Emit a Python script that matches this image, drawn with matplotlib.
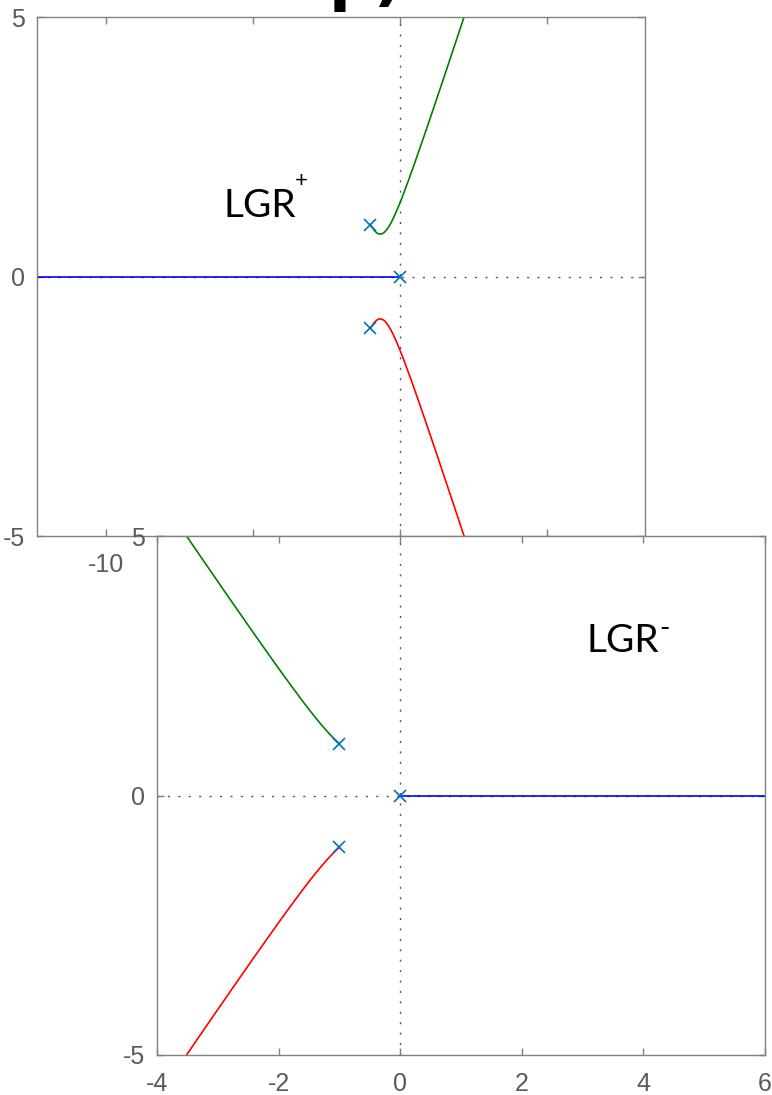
import matplotlib
matplotlib.use('Agg')
import matplotlib.pyplot as plt

plt.rcParams['axes.unicode_minus'] = False

W, H = 772, 1095

# open-loop poles
pole_re = [0.0, -1.0, -1.0]
pole_im = [0.0, 1.0, -1.0]

# LGR+ complex branch (upper half; lower is its conjugate)
pos_sigma = [-1.00, -0.95, -0.90, -0.85, -0.80, -0.75, -0.70, -0.65, -0.60, -0.55,
             -0.50, -0.40, -0.30, -0.20, -0.10, 0.00, 0.10, 0.20, 0.30, 0.40,
             0.50, 0.60, 0.80, 1.00, 1.20, 1.40, 1.60, 1.80, 2.00, 2.20, 2.40]
pos_omega = [1.000, 0.953, 0.911, 0.876, 0.849, 0.829, 0.819, 0.817, 0.825, 0.841,
             0.866, 0.938, 1.034, 1.149, 1.277, 1.414, 1.559, 1.709, 1.863, 2.020,
             2.179, 2.341, 2.668, 3.000, 3.335, 3.672, 4.010, 4.350, 4.690, 5.032, 5.374]
pos_real_x = [0.0, -15.0]
pos_real_y = [0.0, 0.0]

# LGR- complex branch (upper half)
neg_sigma = [-1.0, -1.1, -1.2, -1.3, -1.4, -1.5, -1.6, -1.8, -2.0, -2.2, -2.4,
             -2.6, -2.8, -3.0, -3.2, -3.4, -3.6]
neg_omega = [1.000, 1.109, 1.233, 1.368, 1.510, 1.658, 1.811, 2.126, 2.449, 2.779,
             3.111, 3.447, 3.784, 4.123, 4.463, 4.804, 5.146]
neg_real_x = [0.0, 15.0]
neg_real_y = [0.0, 0.0]

top_xticks = [-10, -5, 0, 5]
bot_xticks = [-4, -2, 0, 2, 4, 6]
yticks = [-5, 0, 5]

AX_COL = '#808080'
LBL_COL = '#5a5a5a'
BLUE = '#0000ff'
GREEN = '#008000'
RED = '#ff0000'
POLE = '#0072BD'

fig = plt.figure(figsize=(W / 100, H / 100), dpi=100)

ax1 = fig.add_axes([37 / W, 1 - 536 / H, 608 / W, 519 / H])
ax2 = fig.add_axes([157 / W, 1 - 1055 / H, 608 / W, 519 / H])


def style(ax, xticks):
    ax.set_xticks(xticks)
    ax.set_yticks(yticks)
    for s in ax.spines.values():
        s.set_color(AX_COL)
        s.set_linewidth(1.0)
    ax.tick_params(direction='in', length=5, width=1, color=AX_COL,
                   labelcolor=LBL_COL, labelsize=18, top=True, right=True)
    ax.tick_params(axis='x', pad=12.5)
    ax.tick_params(axis='y', pad=8.5)
    for lab in ax.get_xticklabels() + ax.get_yticklabels():
        lab.set_family('Liberation Sans')
    ax.axhline(0, color='#555555', lw=1, ls=(0, (1.5, 6)), zorder=1)
    ax.axvline(0, color='#555555', lw=1, ls=(0, (1.5, 6)), zorder=1)


style(ax1, top_xticks)
ax1.set_xlim(-12.33, 8.33)
ax1.set_ylim(-5, 5)
ax1.plot(pos_real_x, pos_real_y, color=BLUE, lw=1.2, zorder=2)
ax1.plot(pos_sigma, pos_omega, color=GREEN, lw=1.2, zorder=2)
ax1.plot(pos_sigma, [-w for w in pos_omega], color=RED, lw=1.2, zorder=2)
ax1.plot(pole_re, pole_im, ls='none', marker='x', ms=9, mew=1.2, color=POLE, zorder=3)

style(ax2, bot_xticks)
ax2.set_xlim(-4, 6)
ax2.set_ylim(-5, 5)
ax2.plot(neg_real_x, neg_real_y, color=BLUE, lw=1.2, zorder=2)
ax2.plot(neg_sigma, neg_omega, color=GREEN, lw=1.2, zorder=2)
ax2.plot(neg_sigma, [-w for w in neg_omega], color=RED, lw=1.2, zorder=2)
ax2.plot(pole_re, pole_im, ls='none', marker='x', ms=9, mew=1.2, color=POLE, zorder=3)

# labels
fig.text(224 / W, 1 - 217 / H, 'LGR', fontsize=28, family='Lato', va='baseline', ha='left')
fig.text(295 / W, 1 - 187 / H, '+', fontsize=16, family='Lato', va='baseline', ha='left')
fig.text(586 / W, 1 - 652 / H, 'LGR', fontsize=28, family='Lato', va='baseline', ha='left')
fig.text(659 / W, 1 - 637 / H, '-', fontsize=20, family='Lato', va='baseline', ha='left')

# partially visible title at top
fig.text(329 / W, 1 + 1 / H, 'p)', fontsize=46, fontweight='bold', color='black',
         va='baseline', ha='left')

fig.savefig('out.png', dpi=100)
